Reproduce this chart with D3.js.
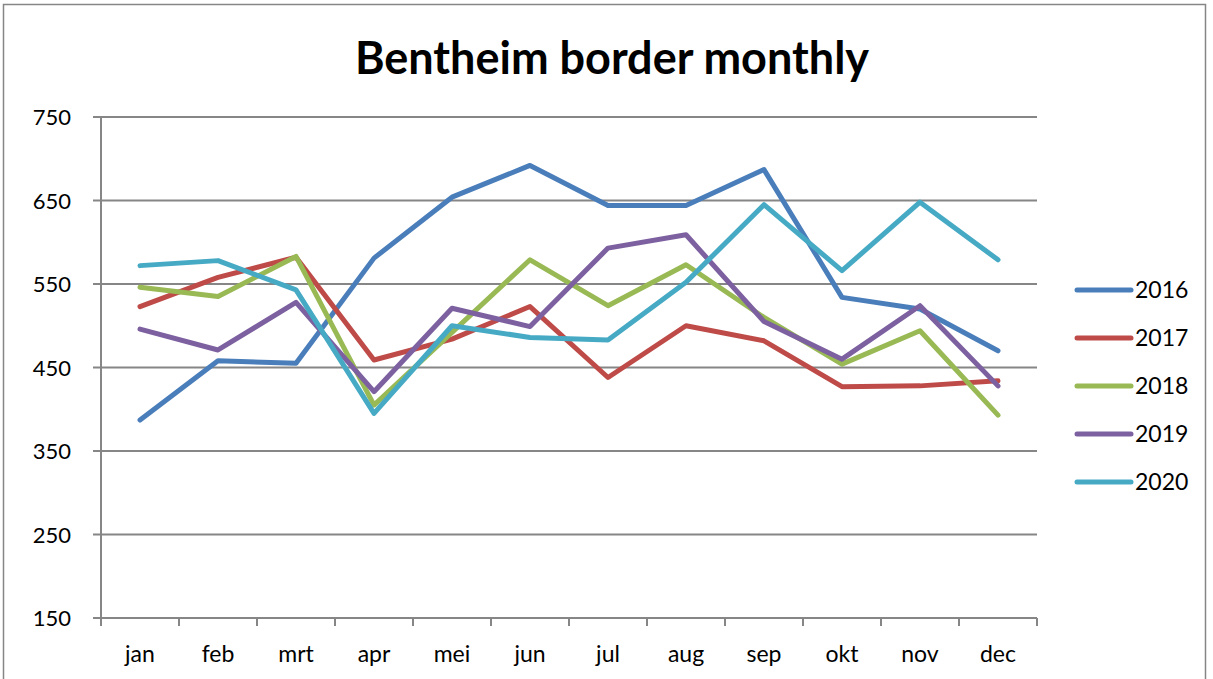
<!DOCTYPE html>
<html>
<head>
<meta charset="utf-8">
<script src="https://cdn.jsdelivr.net/npm/d3@7"></script>
<style>
  body { margin: 0; background: #fff; }
  text { font-family: Lato, "Open Sans", sans-serif; fill: #000; }
</style>
</head>
<body>
<div id="vis"></div>
<script>
var months = ['jan', 'feb', 'mrt', 'apr', 'mei', 'jun', 'jul', 'aug', 'sep', 'okt', 'nov', 'dec'];
var years = ['2016', '2017', '2018', '2019', '2020'];
var yTicks = [150, 250, 350, 450, 550, 650, 750];

var v2016 = [387, 458, 455, 581, 654, 692, 644, 644, 687, 534, 520, 470];
var v2017 = [523, 558, 582, 459, 484, 523, 438, 500, 482, 427, 428, 434];
var v2018 = [546, 535, 583, 405, 492, 579, 524, 573, 510, 454, 494, 393];
var v2019 = [496, 471, 528, 421, 521, 499, 593, 609, 505, 460, 524, 428];
var v2020 = [572, 578, 543, 395, 500, 486, 483, 552, 645, 566, 648, 579];

var colors = ['#4A7EBB', '#BE4B48', '#98B954', '#7D60A0', '#46AAC5'];

var series = [v2016, v2017, v2018, v2019, v2020].map(function (vals, i) {
  return { name: years[i], color: colors[i], values: vals };
});

var width = 1213;
var height = 679;
var margin = { left: 101, right: 176, top: 117, bottom: 61 };

var svg = d3.select('#vis').append('svg')
  .attr('width', width)
  .attr('height', height);

// outer chart border
svg.append('rect')
  .attr('x', 3.5).attr('y', 4.5)
  .attr('width', 1202).attr('height', 700)
  .attr('fill', 'none')
  .attr('stroke', '#868686')
  .attr('stroke-width', 1.5);

svg.append('text')
  .attr('x', 612)
  .attr('y', 74)
  .attr('text-anchor', 'middle')
  .style('font-size', '45px')
  .style('font-weight', 'bold')
  .text('Bentheim border monthly');

var x = d3.scaleBand()
  .domain(months)
  .range([margin.left, width - margin.right]);

var y = d3.scaleLinear()
  .domain([150, 750])
  .range([height - margin.bottom, margin.top]);

// gridlines
svg.append('g')
  .selectAll('line')
  .data(yTicks)
  .enter().append('line')
  .attr('x1', margin.left - 8)
  .attr('x2', width - margin.right)
  .attr('y1', function (d) { return y(d); })
  .attr('y2', function (d) { return y(d); })
  .attr('stroke', '#868686')
  .attr('stroke-width', 2);

// y axis line
svg.append('line')
  .attr('x1', margin.left).attr('x2', margin.left)
  .attr('y1', y(750)).attr('y2', y(150))
  .attr('stroke', '#868686')
  .attr('stroke-width', 2);

svg.append('g')
  .selectAll('text')
  .data(yTicks)
  .enter().append('text')
  .attr('x', 71)
  .attr('y', function (d) { return y(d) + 8; })
  .attr('text-anchor', 'end')
  .style('font-size', '22px')
  .text(function (d) { return d; });

// x axis ticks
var xEdges = months.map(function (m) { return x(m); }).concat([x.range()[1]]);
svg.append('g')
  .selectAll('line')
  .data(xEdges)
  .enter().append('line')
  .attr('x1', function (d) { return d; })
  .attr('x2', function (d) { return d; })
  .attr('y1', y(150))
  .attr('y2', y(150) + 8)
  .attr('stroke', '#868686')
  .attr('stroke-width', 2);

svg.append('g')
  .selectAll('text')
  .data(months)
  .enter().append('text')
  .attr('x', function (d) { return x(d) + x.bandwidth() / 2; })
  .attr('y', 662)
  .attr('text-anchor', 'middle')
  .style('font-size', '23px')
  .text(function (d) { return d; });

var line = d3.line()
  .x(function (d, i) { return x(months[i]) + x.bandwidth() / 2; })
  .y(function (d) { return y(d); });

svg.append('g')
  .selectAll('path')
  .data(series)
  .enter().append('path')
  .attr('d', function (d) { return line(d.values); })
  .attr('fill', 'none')
  .attr('stroke', function (d) { return d.color; })
  .attr('stroke-width', 5)
  .attr('stroke-linejoin', 'round')
  .attr('stroke-linecap', 'round');

// legend
var legend = svg.append('g')
  .selectAll('g')
  .data(series)
  .enter().append('g')
  .attr('transform', function (d, i) { return 'translate(1077,' + (290 + i * 48) + ')'; });

legend.append('line')
  .attr('x1', 0).attr('x2', 54)
  .attr('stroke', function (d) { return d.color; })
  .attr('stroke-width', 5)
  .attr('stroke-linecap', 'round');

legend.append('text')
  .attr('x', 58)
  .attr('y', 8)
  .style('font-size', '23px')
  .text(function (d) { return d.name; });
</script>
</body>
</html>
